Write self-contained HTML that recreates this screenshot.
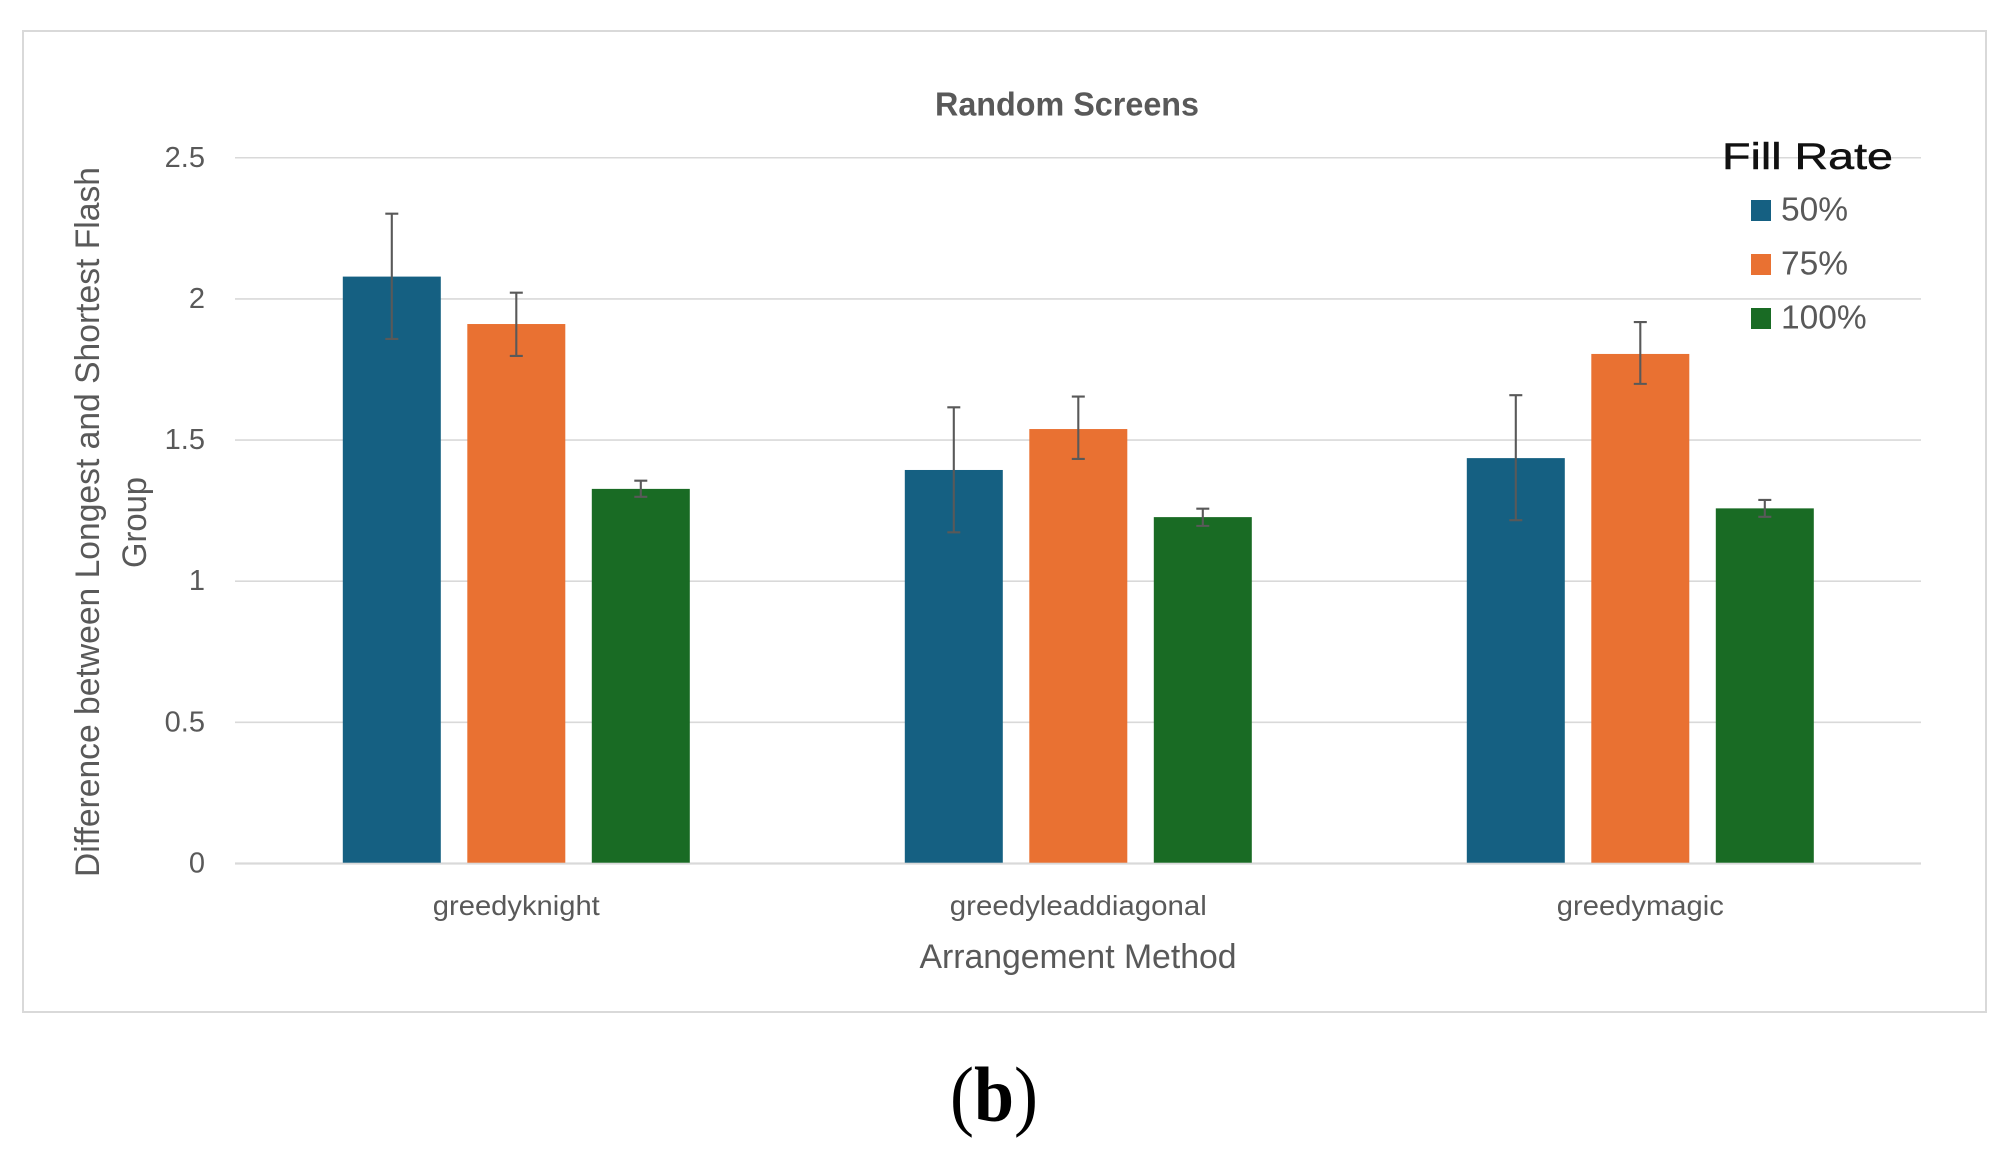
<!DOCTYPE html>
<html lang="en">
<head>
<meta charset="utf-8">
<title>Random Screens</title>
<style>
html,body{margin:0;padding:0;background:#fff;width:2015px;height:1160px;overflow:hidden}
svg{display:block}
text{font-family:"Liberation Sans",sans-serif;fill:#595959}
</style>
</head>
<body>
<svg id="chart" xmlns="http://www.w3.org/2000/svg" width="2015" height="1160" viewBox="0 0 2015 1160">
  <rect x="23" y="31" width="1963" height="981" fill="#fff" stroke="#D9D9D9" stroke-width="2"/>
  <text x="935" y="115.5" font-size="33" font-weight="700" textLength="264" lengthAdjust="spacingAndGlyphs">Random Screens</text>
  <g id="grid"></g>
  <g id="yticks"></g>
  <g id="bars"></g>
  <g id="errors"></g>
  <g id="xticks"></g>
  <text x="919.5" y="968" font-size="34" textLength="317" lengthAdjust="spacingAndGlyphs">Arrangement Method</text>
  <text transform="translate(99 877) rotate(-90)" font-size="34" textLength="710" lengthAdjust="spacingAndGlyphs">Difference between Longest and Shortest Flash</text>
  <text transform="translate(146 568) rotate(-90)" font-size="34" textLength="91" lengthAdjust="spacingAndGlyphs">Group</text>
  <text x="1722" y="169" font-size="37" textLength="171" lengthAdjust="spacingAndGlyphs" stroke="#111" stroke-width="0.5" style="fill:#111">Fill Rate</text>
  <g id="legend"></g>
  <text x="950" y="1121" font-size="78" textLength="88" lengthAdjust="spacingAndGlyphs" style="font-family:'Liberation Serif',serif;fill:#000">(<tspan font-weight="700">b</tspan>)</text>
</svg>
<script>
const categories = ["greedyknight", "greedyleaddiagonal", "greedymagic"];
const seriesNames = ["50%", "75%", "100%"];
const seriesColors = ["#156082", "#E97132", "#196B24"];
const values50 = [2.079, 1.394, 1.436];
const values75 = [1.911, 1.539, 1.805];
const values100 = [1.327, 1.227, 1.258];
const upper50 = [2.302, 1.616, 1.659];
const upper75 = [2.022, 1.654, 1.918];
const upper100 = [1.356, 1.257, 1.288];
const lower50 = [1.858, 1.173, 1.216];
const lower75 = [1.798, 1.433, 1.699];
const lower100 = [1.299, 1.196, 1.228];
const yTicks = [0, 0.5, 1, 1.5, 2, 2.5];
const categoryTextWidths = [167, 257, 167];

const NS = "http://www.w3.org/2000/svg";
const plotLeft = 235.3, plotRight = 1921, bandWidth = 562, barWidth = 98, barStep = 124.5;
const yPos = v => 863.5 - 282.3 * v;
const bandCenter = i => plotLeft + bandWidth * (i + 0.5);
const barCenter = (i, s) => bandCenter(i) + (s - 1) * barStep;
const allValues = [values50, values75, values100];
const allUpper = [upper50, upper75, upper100];
const allLower = [lower50, lower75, lower100];

function make(tag, attrs, parent, txt) {
  const el = document.createElementNS(NS, tag);
  for (const k in attrs) el.setAttribute(k, attrs[k]);
  if (txt !== undefined) el.textContent = txt;
  parent.appendChild(el);
  return el;
}

const gridG = document.getElementById("grid");
const yG = document.getElementById("yticks");
yTicks.forEach(t => {
  const line = make("line", {x1: 235, x2: plotRight, y1: yPos(t), y2: yPos(t), stroke: "#D9D9D9", "stroke-width": t === 0 ? 2.2 : 1.6}, gridG);
  
  
  const label = make("text", {x: 205, y: yPos(t) + 9, "font-size": 29, "text-anchor": "end"}, yG, String(t));
  
  
});

const barsG = document.getElementById("bars");
const errG = document.getElementById("errors");
categories.forEach((c, i) => {
  allValues.forEach((vals, s) => {
    const cx = barCenter(i, s);
    const bar = make("rect", {x: cx - barWidth / 2, y: yPos(vals[i]), width: barWidth, height: 862.7 - yPos(vals[i]), fill: seriesColors[s]}, barsG);
    
    
    const hi = yPos(allUpper[s][i]), lo = yPos(allLower[s][i]);
    const d = `M${cx} ${hi}V${lo}M${cx - 6.5} ${hi}H${cx + 6.5}M${cx - 6.5} ${lo}H${cx + 6.5}`;
    const err = make("path", {d: d, stroke: "#595959", "stroke-width": 2.1, fill: "none"}, errG);
    
    
  });
  const xLabel = make("text", {x: bandCenter(i) - categoryTextWidths[i] / 2, y: 915, "font-size": 28, textLength: categoryTextWidths[i], lengthAdjust: "spacingAndGlyphs"}, document.getElementById("xticks"), c);
  
  
});

const legendG = document.getElementById("legend");
seriesNames.forEach((n, s) => {
  const swatch = make("rect", {x: 1751, y: 200 + 54 * s, width: 20, height: 21, fill: seriesColors[s]}, legendG);
  
  
  const label = make("text", {x: 1781, y: 220.7 + 54 * s, "font-size": 33.5}, legendG, n);
  
  
});
</script>
</body>
</html>
